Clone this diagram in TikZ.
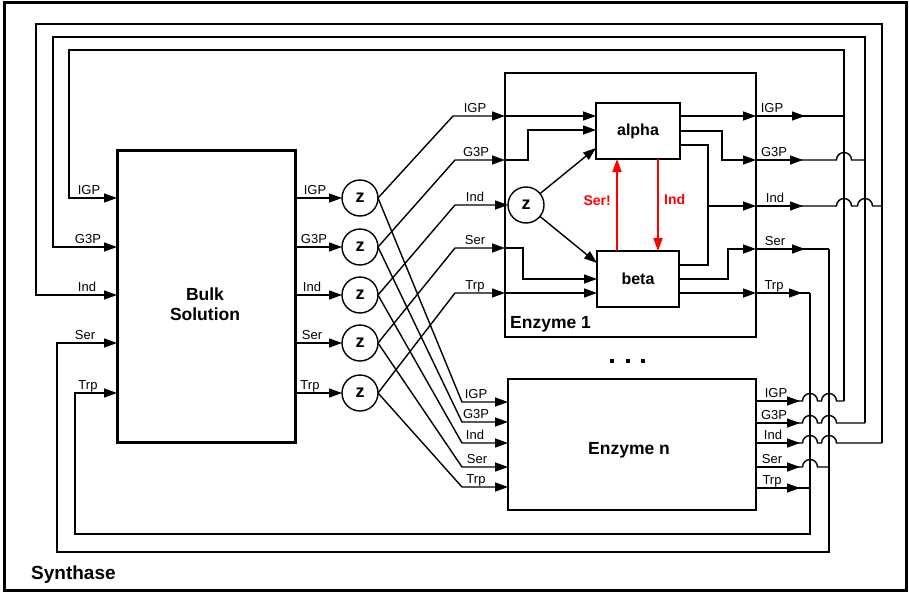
\documentclass[tikz,border=0pt]{standalone}
\usepackage{fontspec}
\setmainfont{Liberation Sans}
\usetikzlibrary{arrows.meta}
\begin{document}
\begin{tikzpicture}[x=1pt,y=-1pt,
 sig/.style={line width=1.4pt},
 arr/.style={line width=1.4pt,-{Triangle[length=13pt,width=9pt]}},
 rarr/.style={line width=1.8pt,red,-{Triangle[length=13pt,width=9pt]}},
 lbl/.style={font=\fontsize{13}{15}\selectfont,inner sep=0pt,anchor=base},
 bx/.style={draw,inner sep=0pt,outer sep=0pt},
 zc/.style={draw,circle,line width=1.4pt,minimum size=36pt,inner sep=0pt,outer sep=0pt,font=\bfseries\fontsize{18}{20}\selectfont},
 btxt/.style={font=\bfseries\fontsize{17.5}{20}\selectfont,inner sep=0pt,anchor=base},
 rtxt/.style={font=\bfseries\fontsize{14}{16}\selectfont,text=red,inner sep=0pt}]
\useasboundingbox (0,0) rectangle (909,594);

% boxes
\node[bx,line width=3pt,minimum width=902pt,minimum height=587pt] (syn) at (455,296.5) {};
\node[btxt,anchor=base west,font=\bfseries\fontsize{19}{22}\selectfont] (synl) at (31,579) {Synthase};
\node[bx,line width=3pt,minimum width=178pt,minimum height=292pt] (bulk) at (206,296) {};
\node[btxt] (bulkl1) at (205,300) {Bulk};
\node[btxt] (bulkl2) at (205,320) {Solution};
\node[bx,line width=2.5pt,minimum width=251pt,minimum height=264pt] (e1) at (630.5,205) {};
\node[btxt,anchor=base west] (e1l) at (510,328) {Enzyme 1};
\node[bx,line width=2.5pt,minimum width=248pt,minimum height=131pt] (en) at (632,444.5) {};
\node[btxt] (enl) at (629,454) {Enzyme n};
\node[bx,line width=2pt,minimum width=84pt,minimum height=56pt,font=\bfseries\fontsize{16}{18}\selectfont] (al) at (638,131) {alpha};
\node[bx,line width=2pt,minimum width=82pt,minimum height=56pt,font=\bfseries\fontsize{16}{18}\selectfont] (be) at (638,279) {beta};

% dots
\fill (610,359) rectangle +(4,4);
\fill (626,359) rectangle +(4,4);
\fill (641,359) rectangle +(4,4);

% z circles
\node[zc] (z1) at (360,198) {z};
\node[zc] (z2) at (360,247) {z};
\node[zc] (z3) at (360,295) {z};
\node[zc] (z4) at (360,343) {z};
\node[zc] (z5) at (360,393) {z};
\node[zc] (zi) at (526,205) {z};

% feedback loops into bulk
\draw[arr] (844,401) -- (844,50) -- (69,50) -- (69,198) -- (bulk.west |- 0,198);
\draw[arr] (865,423) -- (865,37) -- (53,37) -- (53,247) -- (bulk.west |- 0,247);
\draw[arr] (882,443) -- (882,24) -- (36,24) -- (36,295) -- (bulk.west |- 0,295);
\draw[arr] (829,249) -- (829,552) -- (57,552) -- (57,343) -- (bulk.west |- 0,343);
\draw[arr] (810,293) -- (810,534) -- (75,534) -- (75,393) -- (bulk.west |- 0,393);
\node[lbl] at (89,194) {IGP};
\node[lbl] at (88,243) {G3P};
\node[lbl] at (87,291) {Ind};
\node[lbl] at (85,339) {Ser};
\node[lbl] at (88,389) {Trp};

% bulk outputs
\draw[arr] (bulk.east |- z1) -- (z1);
\draw[arr] (bulk.east |- z2) -- (z2);
\draw[arr] (bulk.east |- z3) -- (z3);
\draw[arr] (bulk.east |- z4) -- (z4);
\draw[arr] (bulk.east |- z5) -- (z5);
\node[lbl] at (315,194) {IGP};
\node[lbl] at (314,243) {G3P};
\node[lbl] at (312,291) {Ind};
\node[lbl] at (312,339) {Ser};
\node[lbl] at (310,389) {Trp};

% z to enzyme 1
\draw[arr] (z1.east) -- (453,116) -- (e1.west |- 0,116);
\draw[arr] (z2.east) -- (455,160) -- (e1.west |- 0,160);
\draw[arr] (z3.east) -- (455,205) -- (zi);
\draw[arr] (z4.east) -- (455,248) -- (e1.west |- 0,248);
\draw[arr] (z5.east) -- (455,293) -- (e1.west |- 0,293);
\node[lbl] at (475,112) {IGP};
\node[lbl] at (476,156) {G3P};
\node[lbl] at (475,201) {Ind};
\node[lbl] at (475,244) {Ser};
\node[lbl] at (475,289) {Trp};

% z to enzyme n
\draw[arr] (z1.east) -- (462,402) -- (en.west |- 0,402);
\draw[arr] (z2.east) -- (462,422) -- (en.west |- 0,422);
\draw[arr] (z3.east) -- (462,443) -- (en.west |- 0,443);
\draw[arr] (z4.east) -- (462,467) -- (en.west |- 0,467);
\draw[arr] (z5.east) -- (462,487) -- (en.west |- 0,487);
\node[lbl] at (476,398) {IGP};
\node[lbl] at (476,418) {G3P};
\node[lbl] at (475,439) {Ind};
\node[lbl] at (477,463) {Ser};
\node[lbl] at (476,483) {Trp};

% inside enzyme 1
\draw[arr] (e1.west |- 0,116) -- (al.west |- 0,116);
\draw[arr] (e1.west |- 0,160) -- (528,160) -- (528,130) -- (al.west |- 0,130);
\draw[arr] (zi) -- (al.west |- 0,148);
\draw[arr] (zi) -- (be.west |- 0,263);
\draw[arr] (e1.west |- 0,248) -- (523,248) -- (523,279) -- (be.west |- 0,279);
\draw[arr] (e1.west |- 0,293) -- (be.west |- 0,293);
\draw[rarr] (be.north -| 617,0) -- (al.south -| 617,0);
\draw[rarr] (al.south -| 658,0) -- (be.north -| 658,0);
\node[rtxt,anchor=base east] at (611,205) {Ser!};
\node[rtxt,anchor=base west] at (664,204) {Ind};

\draw[arr] (al.east |- 0,116) -- (e1.east |- 0,116);
\draw[arr] (al.east |- 0,131) -- (722,131) -- (722,160) -- (e1.east |- 0,160);
\draw[sig] (al.east |- 0,145) -- (708,145) -- (708,265) -- (be.east |- 0,265);
\draw[arr] (708,206) -- (e1.east |- 0,206);
\draw[arr] (be.east |- 0,279) -- (728,279) -- (728,249) -- (e1.east |- 0,249);
\draw[arr] (be.east |- 0,293) -- (e1.east |- 0,293);

% enzyme 1 outputs
\draw[sig] (790,116) -- (844,116);
\draw[arr] (e1.east |- 0,116) -- (805,116);
\draw[sig] (790,160) -- (836.5,160) arc[start angle=180,end angle=0,radius=7.5pt] -- (865,160);
\draw[arr] (e1.east |- 0,160) -- (803,160);
\draw[sig] (790,206) -- (836.5,206) arc[start angle=180,end angle=0,radius=7.5pt] -- (857.5,206) arc[start angle=180,end angle=0,radius=7.5pt] -- (882,206);
\draw[arr] (e1.east |- 0,206) -- (803,206);
\draw[sig] (790,249) -- (829,249);
\draw[arr] (e1.east |- 0,249) -- (805,249);
\draw[sig] (790,293) -- (810,293);
\draw[arr] (e1.east |- 0,293) -- (802,293);
\node[lbl] at (772,112) {IGP};
\node[lbl] at (774,156) {G3P};
\node[lbl] at (775,202) {Ind};
\node[lbl] at (775,245) {Ser};
\node[lbl] at (774,289) {Trp};

% enzyme n outputs
\draw[sig] (790,401) -- (802.5,401) arc[start angle=180,end angle=0,radius=7.5pt] -- (821.5,401) arc[start angle=180,end angle=0,radius=7.5pt] -- (844,401);
\draw[arr] (en.east |- 0,401) -- (800,401);
\draw[sig] (790,423) -- (802.5,423) arc[start angle=180,end angle=0,radius=7.5pt] -- (821.5,423) arc[start angle=180,end angle=0,radius=7.5pt] -- (865,423);
\draw[arr] (en.east |- 0,423) -- (800,423);
\draw[sig] (790,443) -- (802.5,443) arc[start angle=180,end angle=0,radius=7.5pt] -- (821.5,443) arc[start angle=180,end angle=0,radius=7.5pt] -- (882,443);
\draw[arr] (en.east |- 0,443) -- (800,443);
\draw[sig] (790,467) -- (802.5,467) arc[start angle=180,end angle=0,radius=7.5pt] -- (829,467);
\draw[arr] (en.east |- 0,467) -- (800,467);
\draw[sig] (790,488) -- (810,488);
\draw[arr] (en.east |- 0,488) -- (800,488);
\node[lbl] at (776,397) {IGP};
\node[lbl] at (774,419) {G3P};
\node[lbl] at (773,439) {Ind};
\node[lbl] at (772,463) {Ser};
\node[lbl] at (772,484) {Trp};
\end{tikzpicture}
\end{document}
